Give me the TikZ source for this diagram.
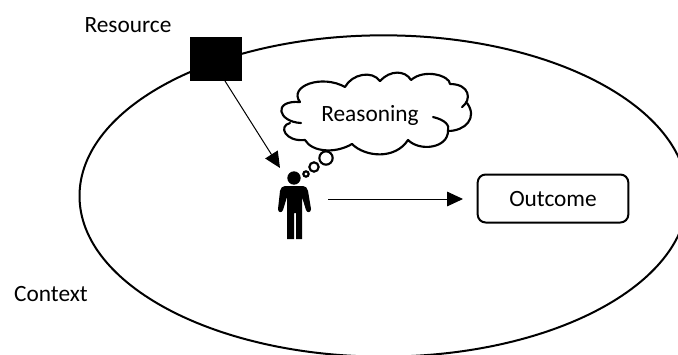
\documentclass[tikz,border=0pt]{standalone}
\usepackage{fontspec}
\setmainfont{Carlito}
\usetikzlibrary{arrows.meta,positioning,shapes.geometric}
\tikzset{
  txt/.style={font=\fontsize{17.5}{20}\selectfont, inner sep=0pt},
  flow/.style={-{Triangle[length=12pt,width=11pt]}, line width=0.75pt},
  outline/.style={line width=1.6pt, line cap=round, line join=round},
  bubble/.style={circle, draw, line width=1.6pt, fill=white, inner sep=0pt},
}
\begin{document}
\begin{tikzpicture}[x=0.75pt,y=-0.75pt]
\useasboundingbox (0,0) rectangle (678,354);

% context
\begin{scope}
\clip (0,0) rectangle (678,354);
\node (context) [ellipse, draw, line width=1.5pt, minimum width=456pt, minimum height=241pt, inner sep=0pt] at (383.5,196) {};
\end{scope}

% resource
\node (resource) [fill=black, minimum width=39pt, minimum height=33.5pt, inner sep=0pt] at (216,59) {};
\node (resourcelabel) [txt] at (128,25) {Resource};
\node (contextlabel) [txt] at (51,294) {Context};

% cloud
\draw[outline] (301,123) .. controls (278,122) and (272,100) .. (300,102)
  .. controls (288,86) and (322,74) .. (345,87)
  .. controls (352,74) and (372,70) .. (380,81)
  .. controls (390,70) and (405,70) .. (411,80)
  .. controls (425,68) and (450,76) .. (450,84)
  .. controls (470,84) and (472,100) .. (462,107);
\draw[outline] (467,103) .. controls (478,118) and (465,131) .. (448,131)
  .. controls (448,148) and (420,152) .. (408,140)
  .. controls (395,160) and (365,157) .. (352,144)
  .. controls (335,154) and (312,152) .. (305,140)
  .. controls (285,142) and (278,126) .. (290,123);
\draw[outline] (433,117) .. controls (445,120) and (450,125) .. (448,131);
\node (reasoning) [txt] at (370,115) {Reasoning};
\node (bubblea) [bubble, minimum size=10pt] at (326,158) {};
\node (bubbleb) [bubble, minimum size=7pt] at (314,167) {};
\node (bubblec) [bubble, minimum size=4pt] at (306,174) {};

% person
\node (head) [circle, fill=black, minimum size=10pt, inner sep=0pt] at (294,178) {};
\fill (285,186) -- (303,186) .. controls (306,186) and (307,188) .. (308,191)
  -- (311,209) .. controls (311,213) and (307,213) .. (306,210) -- (302,197)
  -- (302,239) -- (296,239) -- (296,213) -- (294,213) -- (294,239) -- (287,239)
  -- (287,197) -- (283,210) .. controls (282,213) and (278,213) .. (278,209)
  -- (280,191) .. controls (281,188) and (282,186) .. (285,186) -- cycle;

% outcome
\node (outcome) [draw, line width=1.5pt, rounded corners=6pt, minimum width=113pt, minimum height=36pt, inner sep=0pt] at (553,198.5) {};
\node (outcomelabel) [txt] at (553,199) {Outcome};

% arrows
\coordinate (reach) at (280,168);
\coordinate (start) at (328,199);
\coordinate (leave) at (225,81);
\coordinate (stop) at (463,199);
\draw[flow] (leave) -- (reach);
\draw[flow] (start) -- (stop);
\end{tikzpicture}
\end{document}
